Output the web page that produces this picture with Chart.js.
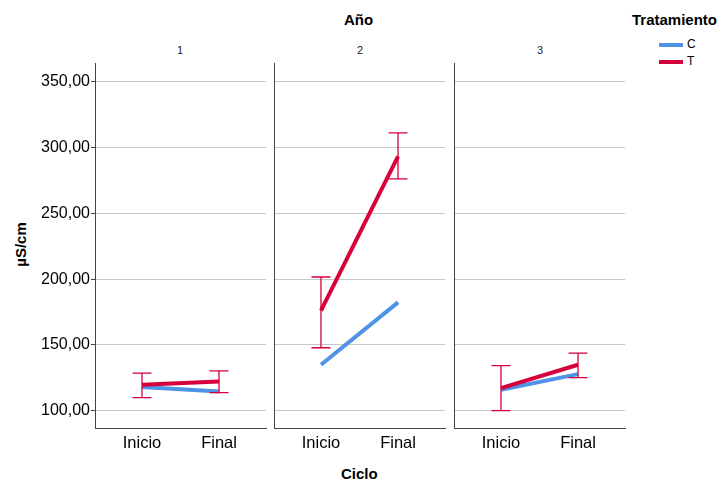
<!DOCTYPE html>
<html>
<head>
<meta charset="utf-8">
<script src="https://cdn.jsdelivr.net/npm/chart.js@4/dist/chart.umd.min.js"></script>
<style>
    body { margin: 0; background: #fff; font-family: "Liberation Sans", Arial, sans-serif; }
    #wrap { position: relative; width: 723px; height: 481px; overflow: hidden; }
    #wrap canvas { position: absolute; left: 0; top: 0; }
    .txt { position: absolute; color: #000; white-space: nowrap; }
    .bold { font-weight: bold; font-size: 15px; }
</style>
</head>
<body>
<div id="wrap">
    <div class="txt bold" style="left:344px; top:11px;">Año</div>
    <div class="txt" style="left:177px; top:44px; font-size:11px; color:#222;">1</div>
    <div class="txt" style="left:357px; top:44px; font-size:11px; color:#222;">2</div>
    <div class="txt" style="left:537px; top:44px; font-size:11px; color:#222;">3</div>
    <div class="txt bold" style="left:632px; top:11px;">Tratamiento</div>
    <div style="position:absolute; left:659px; top:43px; width:24px; height:4px; background:#4f93e6;"></div>
    <div class="txt" style="left:687px; top:37px; font-size:12px;">C</div>
    <div style="position:absolute; left:659px; top:60px; width:24px; height:4px; background:#d6003a;"></div>
    <div class="txt" style="left:687px; top:54px; font-size:12px;">T</div>
    <div class="txt bold" style="left:-2px; top:236px; transform:rotate(-90deg);">µS/cm</div>
    <div class="txt bold" style="left:341px; top:465px;">Ciclo</div>
</div>
<script>
// data
const cycles = ['Inicio', 'Final'];
const years = ['1', '2', '3'];
const yTicks = [100, 150, 200, 250, 300, 350];

// mean values per year, [Inicio, Final]
const controlMeans = [[118.2, 114.7], [135.0, 182.3], [116.0, 127.9]];
const treatMeans = [[119.8, 122.3], [176.0, 293.2], [117.2, 135.0]];
// error bars for T
const treatLow = [[110.1, 113.9], [147.9, 276.1], [100.2, 125.3]];
const treatHigh = [[128.6, 130.4], [201.6, 311.0], [134.4, 143.8]];

const blue = '#4f93e6';
const red = '#d6003a';

// panel plot areas (left, right)
const panels = [[95, 266], [274, 445], [454, 625]];

const errorBars = {
    id: 'errorBars',
    afterDatasetsDraw(chart, args, opts) {
        const ctx = chart.ctx;
        const xs = chart.scales.x, ys = chart.scales.y;
        ctx.save();
        ctx.strokeStyle = red;
        ctx.lineWidth = 1.3;
        opts.low.forEach((lo, i) => {
            const x = xs.getPixelForValue(i);
            const y1 = ys.getPixelForValue(lo);
            const y2 = ys.getPixelForValue(opts.high[i]);
            ctx.beginPath();
            ctx.moveTo(x, y1); ctx.lineTo(x, y2);
            ctx.moveTo(x - 9.5, y1); ctx.lineTo(x + 9.5, y1);
            ctx.moveTo(x - 9.5, y2); ctx.lineTo(x + 9.5, y2);
            ctx.stroke();
        });
        ctx.restore();
    }
};

function makePanel(p) {
    const canvas = document.createElement('canvas');
    canvas.width = 723;
    canvas.height = 481;
    document.getElementById('wrap').appendChild(canvas);

    const first = p === 0;
    const yW = first ? 60 : 0;
    const left = panels[p][0], right = panels[p][1];

    new Chart(canvas.getContext('2d'), {
        type: 'line',
        data: {
            datasets: [{
                label: 'C',
                data: controlMeans[p].map((v, i) => ({ x: i, y: v })),
                borderColor: blue,
                borderWidth: 4,
                pointRadius: 0,
                order: 1
            }, {
                label: 'T',
                data: treatMeans[p].map((v, i) => ({ x: i, y: v })),
                borderColor: red,
                borderWidth: 4,
                pointRadius: 0,
                order: 0
            }]
        },
        options: {
            responsive: false,
            animation: false,
            devicePixelRatio: 1,
            layout: { padding: { left: left - yW, right: 723 - right, top: 63, bottom: 13 } },
            plugins: {
                legend: { display: false },
                tooltip: { enabled: false },
                errorBars: { low: treatLow[p], high: treatHigh[p] }
            },
            scales: {
                x: {
                    type: 'linear',
                    min: -0.61,
                    max: 1.61,
                    afterBuildTicks: s => { s.ticks = [{ value: 0 }, { value: 1 }]; },
                    afterFit: s => { s.height = 40; },
                    grid: { display: false, drawTicks: false },
                    border: { display: true, color: '#444', width: 1 },
                    ticks: {
                        padding: 6,
                        color: '#000',
                        font: { family: 'Liberation Sans', size: 16.5 },
                        callback: v => cycles[v]
                    }
                },
                y: {
                    min: 87,
                    max: 364,
                    afterBuildTicks: s => { s.ticks = yTicks.map(v => ({ value: v })); },
                    afterFit: s => { s.width = yW; },
                    grid: { color: '#c8c8c8', lineWidth: 1, drawTicks: first, tickLength: 4, tickColor: '#444' },
                    border: { display: true, color: '#444', width: 1 },
                    ticks: {
                        display: first,
                        padding: 1,
                        color: '#000',
                        font: { family: 'Liberation Sans', size: 16 },
                        callback: v => v.toFixed(2).replace('.', ',')
                    }
                }
            }
        },
        plugins: [errorBars]
    });
}

years.forEach((y, i) => makePanel(i));
</script>
</body>
</html>
